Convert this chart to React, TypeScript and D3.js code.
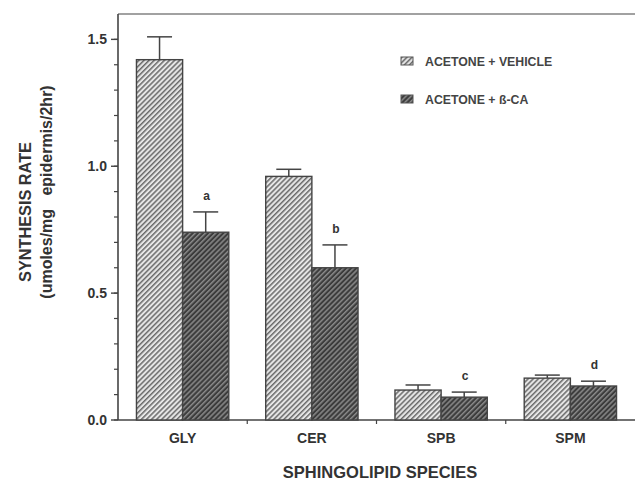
import React, { useRef, useEffect } from "react";
import * as d3 from "d3";

const categories = ["GLY", "CER", "SPB", "SPM"];
const seriesNames = ["ACETONE + VEHICLE", "ACETONE + ß-CA"];
const vehicle = [1.42, 0.96, 0.118, 0.165];
const vehicleErr = [0.09, 0.028, 0.02, 0.012];
const betaCA = [0.74, 0.6, 0.09, 0.134];
const betaCAErr = [0.08, 0.09, 0.02, 0.019];
const letters = ["a", "b", "c", "d"];
const yTicks = [0, 0.5, 1.0, 1.5];

export default function App() {
  const ref = useRef<SVGSVGElement>(null);

  useEffect(() => {
    const svg = d3.select(ref.current);
    svg.selectAll("*").remove();
    const width = 639;
    const height = 484;
    const margin = { top: 14, right: 4, bottom: 64, left: 118 };
    const innerW = width - margin.left - margin.right;
    const innerH = height - margin.top - margin.bottom;
    const ink = "#444";
    const font = "'Liberation Sans', Arial, Helvetica, sans-serif";

    const defs = svg.append("defs");
    const mkPattern = (id: string, bg: string, fg: string) => {
      const p = defs
        .append("pattern")
        .attr("id", id)
        .attr("patternUnits", "userSpaceOnUse")
        .attr("width", 3.6)
        .attr("height", 3.6)
        .attr("patternTransform", "rotate(45)");
      p.append("rect").attr("width", 3.6).attr("height", 3.6).attr("fill", bg);
      p.append("rect").attr("width", 1.5).attr("height", 3.6).attr("fill", fg);
    };
    mkPattern("hatchLight", "#e6e6e6", "#6a6a6a");
    mkPattern("hatchDark", "#3c3c3c", "#8a8a8a");
    const fills = ["url(#hatchLight)", "url(#hatchDark)"];

    const x0 = d3.scaleBand().domain(categories).range([0, innerW]).paddingInner(0).paddingOuter(0);
    const x1 = d3.scaleBand().domain(["v", "b"]).range([0, x0.bandwidth()]).paddingOuter(0.4).paddingInner(0);
    const y = d3.scaleLinear().domain([0, 1.6]).range([innerH, 0]);

    const g = svg.append("g").attr("transform", `translate(${margin.left},${margin.top})`);

    // frame: top line, left axis, bottom axis
    g.append("line").attr("x1", 0).attr("x2", innerW).attr("y1", 0).attr("y2", 0)
      .attr("stroke", ink).attr("stroke-width", 1.2);

    const yAxis = g.append("g");
    yAxis.append("line").attr("x1", 0).attr("x2", 0).attr("y1", 0).attr("y2", innerH)
      .attr("stroke", ink).attr("stroke-width", 1.6);
    const minor = d3.range(0, 16).map((i) => i / 10);
    yAxis.selectAll(".minor").data(minor).enter().append("line")
      .attr("x1", -4).attr("x2", 0)
      .attr("y1", (d) => y(d)).attr("y2", (d) => y(d))
      .attr("stroke", ink).attr("stroke-width", 1.2);
    yAxis.selectAll(".major").data(yTicks).enter().append("line")
      .attr("x1", -7).attr("x2", 0)
      .attr("y1", (d) => y(d)).attr("y2", (d) => y(d))
      .attr("stroke", ink).attr("stroke-width", 1.4);
    yAxis.selectAll(".lab").data(yTicks).enter().append("text")
      .attr("x", -11).attr("y", (d) => y(d) + 5)
      .attr("text-anchor", "end")
      .attr("font-family", font).attr("font-weight", "bold").attr("font-size", 14)
      .attr("fill", "#333")
      .text((d) => d3.format(".1f")(d));

    const xAxis = g.append("g").attr("transform", `translate(0,${innerH})`);
    xAxis.append("line").attr("x1", 0).attr("x2", innerW).attr("stroke", ink).attr("stroke-width", 1.6);
    xAxis.selectAll(".t").data(categories.slice(1)).enter().append("line")
      .attr("x1", (d) => x0(d)!).attr("x2", (d) => x0(d)!)
      .attr("y1", 0).attr("y2", 4).attr("stroke", ink).attr("stroke-width", 1.2);
    xAxis.selectAll(".lab").data(categories).enter().append("text")
      .attr("x", (d) => x0(d)! + x0.bandwidth() / 2)
      .attr("y", 23)
      .attr("text-anchor", "middle")
      .attr("font-family", font).attr("font-weight", "bold").attr("font-size", 14)
      .attr("fill", "#333")
      .text((d) => d);

    const series = [
      { key: "v", vals: vehicle, errs: vehicleErr },
      { key: "b", vals: betaCA, errs: betaCAErr },
    ];

    series.forEach((s, si) => {
      const grp = g.append("g");
      categories.forEach((c, i) => {
        const bx = x0(c)! + x1(s.key)!;
        const bw = x1.bandwidth();
        const cx = bx + bw / 2;
        const top = y(s.vals[i]);
        const eTop = y(s.vals[i] + s.errs[i]);
        grp.append("line").attr("x1", cx).attr("x2", cx).attr("y1", top).attr("y2", eTop)
          .attr("stroke", ink).attr("stroke-width", 1.5);
        grp.append("line").attr("x1", cx - 12.5).attr("x2", cx + 12.5).attr("y1", eTop).attr("y2", eTop)
          .attr("stroke", ink).attr("stroke-width", 1.5);
        grp.append("rect")
          .attr("x", bx).attr("y", top)
          .attr("width", bw).attr("height", innerH - top)
          .attr("fill", fills[si])
          .attr("stroke", ink).attr("stroke-width", 1.4);
        if (si === 1) {
          grp.append("text")
            .attr("x", cx + 1).attr("y", eTop - 12)
            .attr("text-anchor", "middle")
            .attr("font-family", font).attr("font-weight", "bold").attr("font-size", 12)
            .attr("fill", "#333")
            .text(letters[i]);
        }
      });
    });

    // legend
    const leg = svg.append("g").attr("transform", "translate(401,57)");
    seriesNames.forEach((name, i) => {
      const row = leg.append("g").attr("transform", `translate(0,${i * 38})`);
      row.append("rect").attr("width", 12).attr("height", 8)
        .attr("fill", fills[i]).attr("stroke", "#555").attr("stroke-width", 1);
      row.append("text").attr("x", 24).attr("y", 9)
        .attr("font-family", font).attr("font-weight", "bold").attr("font-size", 12.3)
        .attr("fill", "#444")
        .text(name);
    });

    // axis titles
    svg.append("text")
      .attr("x", 380).attr("y", 478)
      .attr("text-anchor", "middle")
      .attr("font-family", font).attr("font-weight", "bold").attr("font-size", 16.5)
      .attr("fill", "#333")
      .text("SPHINGOLIPID SPECIES");
    svg.append("text")
      .attr("transform", "translate(31,212) rotate(-90)")
      .attr("text-anchor", "middle")
      .attr("font-family", font).attr("font-weight", "bold").attr("font-size", 16.3)
      .attr("fill", "#333")
      .text("SYNTHESIS RATE");
    svg.append("text")
      .attr("transform", "translate(52,192) rotate(-90)")
      .attr("text-anchor", "middle")
      .attr("font-family", font).attr("font-weight", "bold").attr("font-size", 16)
      .attr("fill", "#333")
      .attr("xml:space", "preserve")
      .style("white-space", "pre")
      .text("(umoles/mg   epidermis/2hr)");
  }, []);

  return (
    <svg
      ref={ref}
      width={639}
      height={484}
      style={{ position: "absolute", left: 0, top: 0, background: "#fff" }}
    />
  );
}
